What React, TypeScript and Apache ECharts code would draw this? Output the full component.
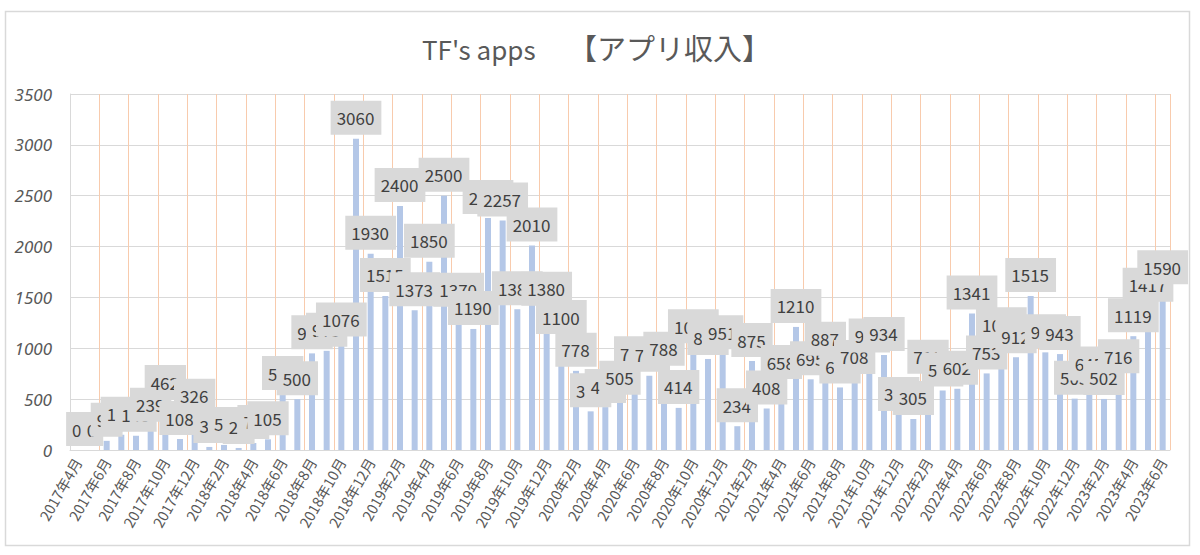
import React, { useEffect, useRef } from "react";
import * as echarts from "echarts";

const TITLE_LATIN = "TF's apps";
const TITLE_JP = "【アプリ収入】";

const categories = [
  "2017年4月", "2017年5月", "2017年6月", "2017年7月", "2017年8月", "2017年9月", "2017年10月", "2017年11月", "2017年12月",
  "2018年1月", "2018年2月", "2018年3月", "2018年4月", "2018年5月", "2018年6月", "2018年7月", "2018年8月", "2018年9月", "2018年10月", "2018年11月", "2018年12月",
  "2019年1月", "2019年2月", "2019年3月", "2019年4月", "2019年5月", "2019年6月", "2019年7月", "2019年8月", "2019年9月", "2019年10月", "2019年11月", "2019年12月",
  "2020年1月", "2020年2月", "2020年3月", "2020年4月", "2020年5月", "2020年6月", "2020年7月", "2020年8月", "2020年9月", "2020年10月", "2020年11月", "2020年12月",
  "2021年1月", "2021年2月", "2021年3月", "2021年4月", "2021年5月", "2021年6月", "2021年7月", "2021年8月", "2021年9月", "2021年10月", "2021年11月", "2021年12月",
  "2022年1月", "2022年2月", "2022年3月", "2022年4月", "2022年5月", "2022年6月", "2022年7月", "2022年8月", "2022年9月", "2022年10月", "2022年11月", "2022年12月",
  "2023年1月", "2023年2月", "2023年3月", "2023年4月", "2023年5月", "2023年6月",
];

const values2017 = [0, 0, 90, 150, 140, 239, 462, 108, 326];
const values2018 = [30, 50, 20, 70, 105, 550, 500, 950, 975, 1076, 3060, 1930];
const values2019 = [1515, 2400, 1373, 1850, 2500, 1370, 1190, 2280, 2257, 1383, 2010, 1380];
const values2020 = [1100, 778, 380, 422, 505, 745, 730, 788, 414, 1010, 895, 951];
const values2021 = [234, 875, 408, 658, 1210, 695, 887, 615, 708, 920, 934, 345];
const values2022 = [305, 710, 585, 602, 1341, 753, 1030, 912, 1515, 960, 943, 505];
const values2023 = [645, 502, 716, 1119, 1417, 1590];

const revenue = [
  ...values2017, ...values2018, ...values2019, ...values2020,
  ...values2021, ...values2022, ...values2023,
];

const yTicks = { min: 0, max: 3500, interval: 500 };

const JP = "'Noto Sans CJK JP', 'Noto Sans', sans-serif";

export default function App() {
  const ref = useRef<HTMLDivElement>(null);

  useEffect(() => {
    if (!ref.current) return;
    const chart = echarts.init(ref.current, null, { renderer: "svg" });
    chart.setOption({
      animation: false,
      backgroundColor: "#ffffff",
      graphic: [
        {
          type: "rect",
          silent: true,
          z: -10,
          shape: { x: 5.5, y: 11.5, width: 1184, height: 534 },
          style: { fill: "none", stroke: "#d9d9d9", lineWidth: 1.5 },
        },
        {
          type: "text",
          silent: true,
          x: 422,
          y: 48,
          style: {
            text: TITLE_LATIN,
            fontSize: 26,
            fontFamily: JP,
            fill: "#595959",
            align: "left",
            verticalAlign: "middle",
            textAlign: "left",
            textVerticalAlign: "middle",
          },
        },
        {
          type: "text",
          silent: true,
          x: 568,
          y: 47,
          style: {
            text: TITLE_JP,
            fontSize: 29,
            fontFamily: JP,
            fill: "#595959",
            align: "left",
            verticalAlign: "middle",
            textAlign: "left",
            textVerticalAlign: "middle",
          },
        },
      ],
      grid: { left: 70, top: 94, right: 30, bottom: 105, containLabel: false },
      xAxis: {
        type: "category",
        data: categories,
        boundaryGap: true,
        axisLine: { show: true, lineStyle: { color: "#d9d9d9", width: 1 } },
        axisTick: { show: false },
        axisLabel: {
          interval: 1,
          rotate: 60,
          color: "#595959",
          fontSize: 14.5,
          fontFamily: JP,
          margin: 9,
        },
        splitLine: {
          show: true,
          interval: 1,
          lineStyle: { color: "#F8CBAD", width: 1 },
        },
      },
      yAxis: {
        type: "value",
        min: yTicks.min,
        max: yTicks.max,
        interval: yTicks.interval,
        axisLine: { show: true, lineStyle: { color: "#d9d9d9" } },
        axisTick: { show: false },
        axisLabel: {
          color: "#595959",
          fontSize: 17,
          fontStyle: "italic",
          fontFamily: "'Noto Sans', sans-serif",
          margin: 18,
          formatter: (v: number) => String(v),
        },
        splitLine: { show: true, lineStyle: { color: "#d9d9d9", width: 1 } },
      },
      series: [
        {
          type: "bar",
          data: revenue,
          barWidth: 6,
          itemStyle: { color: "#B4C7E7" },
          label: {
            show: true,
            position: "top",
            distance: 4,
            backgroundColor: "#D9D9D9",
            padding: [8, 7, 8, 6],
            color: "#404040",
            fontSize: 17,
            lineHeight: 18,
            fontFamily: JP,
          },
        },
      ],
    });
    return () => chart.dispose();
  }, []);

  return (
    <div
      ref={ref}
      style={{ position: "absolute", left: 0, top: 0, width: 1200, height: 555, background: "#fff" }}
    />
  );
}
